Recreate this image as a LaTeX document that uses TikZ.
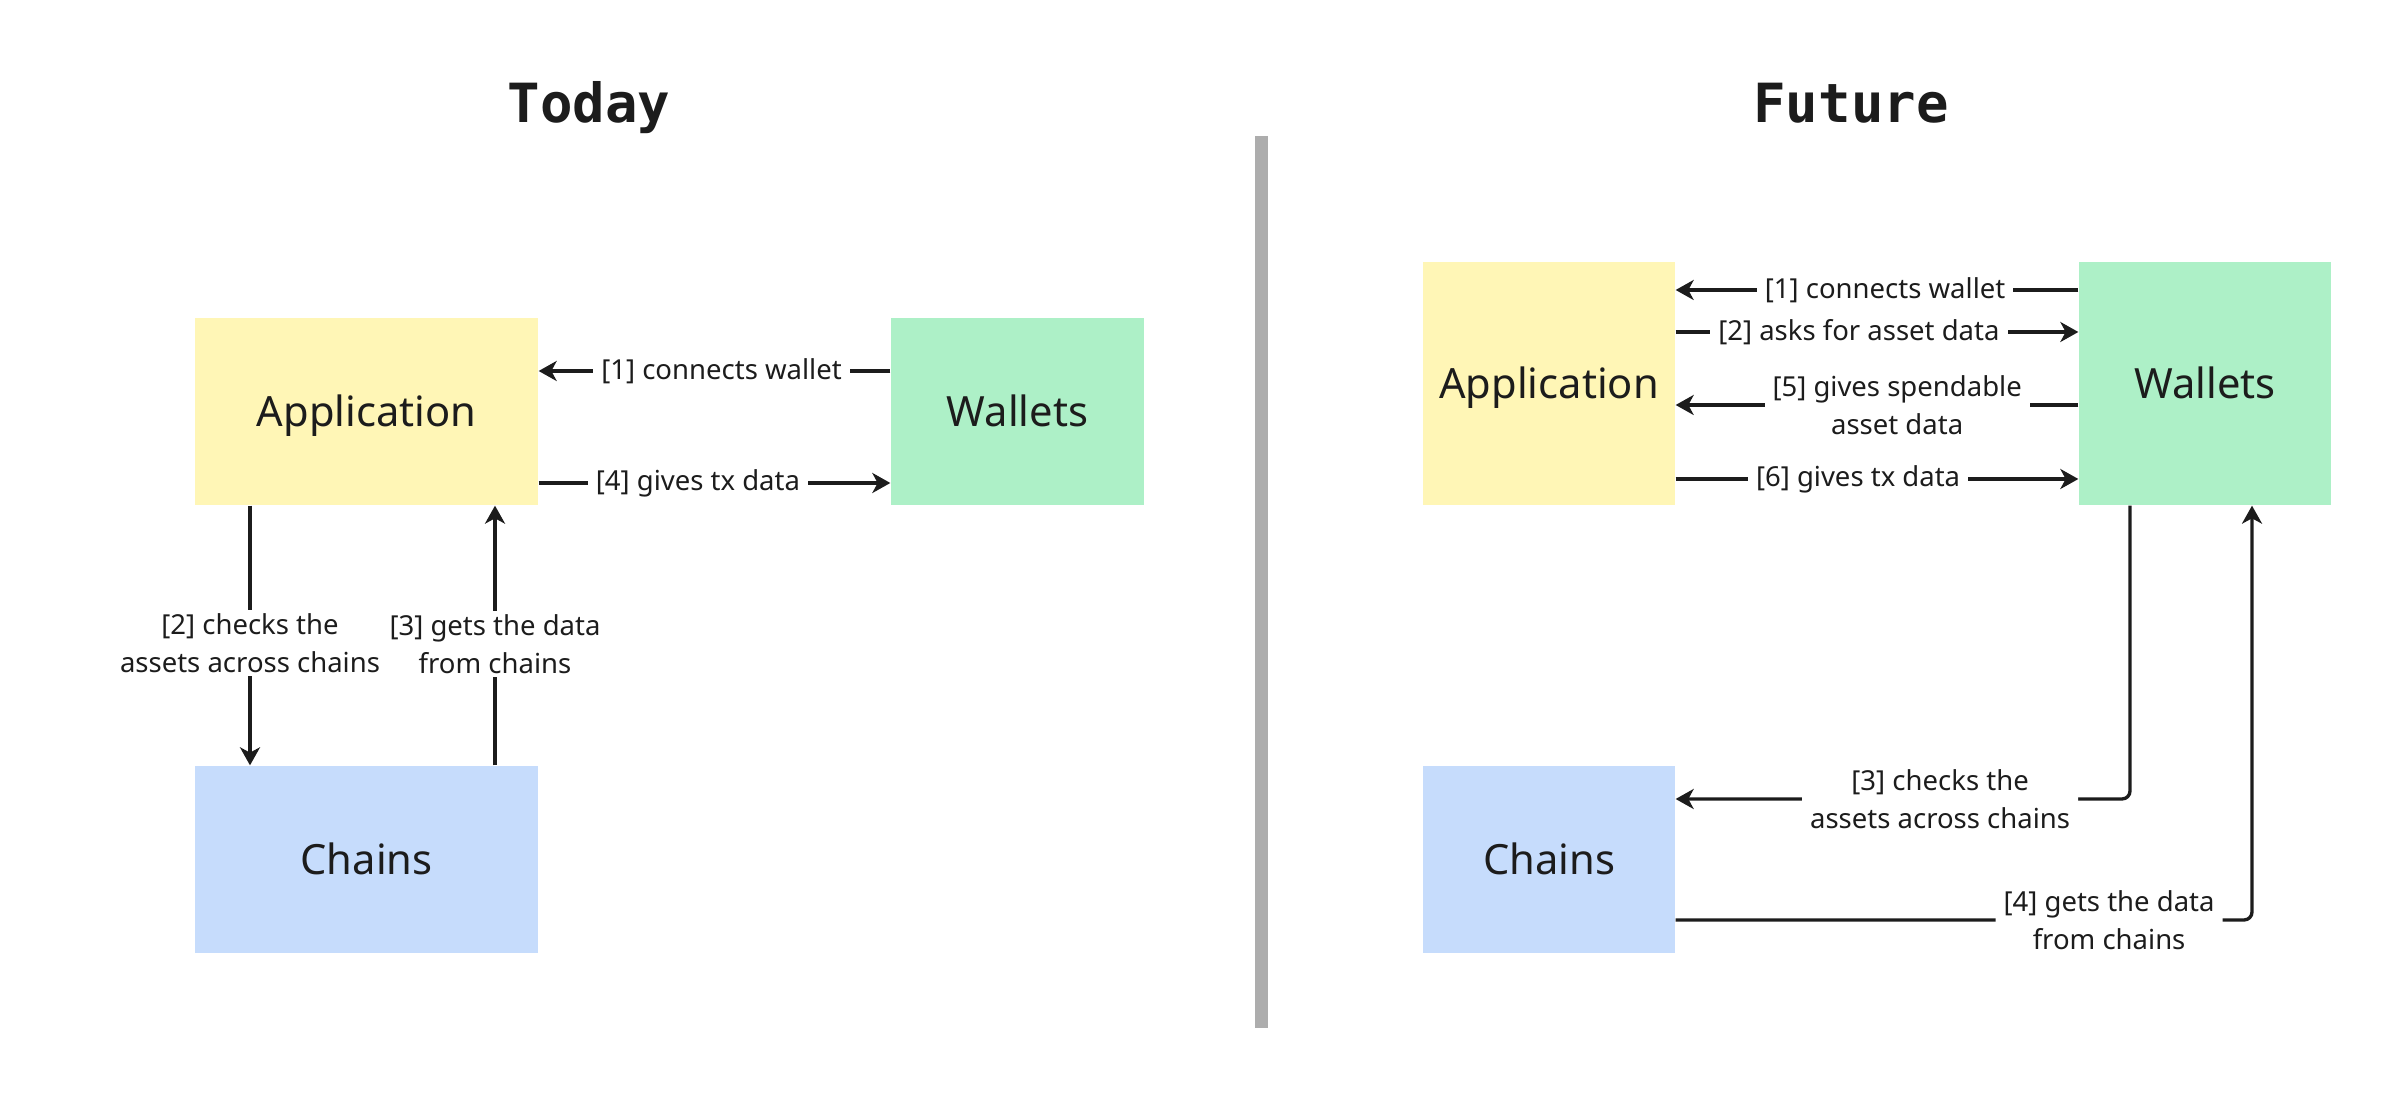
\documentclass[tikz,border=0pt]{standalone}
\usepackage{fontspec}
\setmainfont{Noto Sans}
\newfontfamily\titlefont{DejaVu Sans Mono}
\usetikzlibrary{arrows.meta}
\definecolor{appY}{HTML}{FFF6B6}
\definecolor{walG}{HTML}{ADF0C7}
\definecolor{chnB}{HTML}{C6DCFC}
\definecolor{divG}{HTML}{ADADAD}
\definecolor{ink}{HTML}{1C1C1C}
\tikzset{
  box/.style={inner sep=0pt, text=ink, font=\fontsize{12.5}{14}\selectfont, text height=8.9pt, text depth=0pt},
  ttl/.style={anchor=base, text=ink, font=\titlefont\bfseries\fontsize{16.2}{18}\selectfont},
  arr/.style={draw=ink, line width=1pt, -{Stealth[length=5.4pt,width=6pt,inset=1.6pt]}},
  lbl/.style={fill=white, text=ink, inner xsep=2.4pt, inner ysep=1pt, align=center, font=\fontsize{8.25}{11.4}\selectfont},
}
\begin{document}
\begin{tikzpicture}[x=0.3pt,y=-0.3pt]
\useasboundingbox (0,0) rectangle (2400,1098);
% titles
\node[ttl] (t1) at (589,123) {Today};
\node[ttl] (t2) at (1851,123) {Future};
% divider
\draw[divG, line width=3.9pt] (1261,136) -- (1261,1028);
% Today boxes
\node[box, fill=appY, minimum width=102.9pt, minimum height=56.1pt] (tA) at (366.5,411.5) {Application};
\node[box, fill=walG, minimum width=75.9pt, minimum height=56.1pt] (tW) at (1017.5,411.5) {Wallets};
\node[box, fill=chnB, minimum width=102.9pt, minimum height=56.1pt] (tC) at (366.5,859.5) {Chains};
% Today arrows
\draw[arr] (tW.west |- 0,371) -- node[lbl, pos=0.48] {[1] connects wallet} (tA.east |- 0,371);
\draw[arr] (tA.east |- 0,483) -- node[lbl, pos=0.453] {[4] gives tx data} (tW.west |- 0,483);
\draw[arr] (tA.south -| 250,0) -- node[lbl, pos=0.53] {[2] checks the\\assets across chains} (tC.north -| 250,0);
\draw[arr] (tC.north -| 495,0) -- node[lbl, pos=0.467] {[3] gets the data\\from chains} (tA.south -| 495,0);
% Future boxes
\node[box, fill=appY, minimum width=75.6pt, minimum height=72.9pt] (fA) at (1549,383.5) {Application};
\node[box, fill=walG, minimum width=75.6pt, minimum height=72.9pt] (fW) at (2205,383.5) {Wallets};
\node[box, fill=chnB, minimum width=75.6pt, minimum height=56.1pt] (fC) at (1549,859.5) {Chains};
% Future arrows
\draw[arr] (fW.west |- 0,290) -- node[lbl, pos=0.48] {[1] connects wallet} (fA.east |- 0,290);
\draw[arr] (fA.east |- 0,332) -- node[lbl, pos=0.455] {[2] asks for asset data} (fW.west |- 0,332);
\draw[arr] (fW.west |- 0,405) -- node[lbl, pos=0.45] {[5] gives spendable\\asset data} (fA.east |- 0,405);
\draw[arr] (fA.east |- 0,479) -- node[lbl, pos=0.453] {[6] gives tx data} (fW.west |- 0,479);
\draw[arr, rounded corners=2.4pt] (fW.south -| 2130,0) |- node[lbl, pos=0.709] {[3] checks the\\assets across chains} (fC.east |- 0,799);
\draw[arr, rounded corners=2.4pt] (fC.east |- 0,920) -| node[lbl, pos=0.376] {[4] gets the data\\from chains} (fW.south -| 2252,0);
\end{tikzpicture}
\end{document}
